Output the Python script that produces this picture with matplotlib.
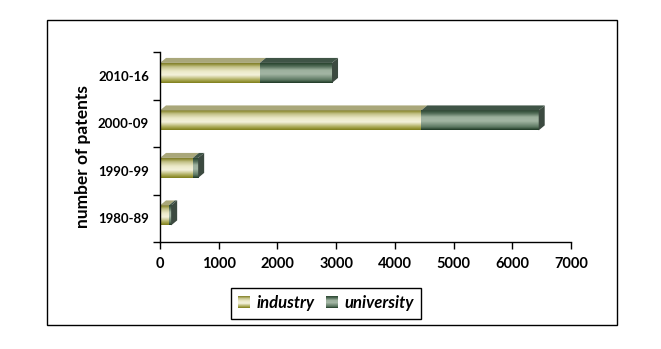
import numpy as np
import matplotlib
matplotlib.use('Agg')
import matplotlib.pyplot as plt
from matplotlib.colors import LinearSegmentedColormap
from matplotlib.patches import Polygon, Rectangle
from matplotlib.legend_handler import HandlerBase

categories = ['1980-89', '1990-99', '2000-09', '2010-16']
industry = [150, 560, 4450, 1700]
university = [40, 90, 2000, 1230]
xticks = [0, 1000, 2000, 3000, 4000, 5000, 6000, 7000]
series_names = ['industry', 'university']

plt.rcParams['font.family'] = ['Lato', 'DejaVu Sans']

ind_cmap = LinearSegmentedColormap.from_list('ind', [
    (0.0, '#7f7f1c'), (0.12, '#a3a24a'), (0.4, '#f4f2dc'), (0.6, '#ebe9c8'),
    (0.82, '#c2c188'), (0.92, '#9c9a48'), (1.0, '#807e2a')])
uni_cmap = LinearSegmentedColormap.from_list('uni', [
    (0.0, '#1e3824'), (0.15, '#5d7862'), (0.45, '#a3b6a4'), (0.65, '#9cb09d'),
    (0.85, '#4f6a55'), (1.0, '#2a4530')])
ind_top = '#a9a77a'
uni_top = '#3f5446'
side_col = '#3c4a40'

fig = plt.figure(figsize=(6.61, 3.49), dpi=100)
ax = fig.add_axes([160/661, 107/349, 411/661, 190/349])
xmin, xmax = 0, 7000
ymin, ymax = -0.5, len(categories) - 0.5

y = np.arange(len(categories)) + 0.06
h = 0.42
b1 = ax.barh(y, industry, height=h, color='none', edgecolor='none')
b2 = ax.barh(y, university, left=industry, height=h, color='none', edgecolor='none')

grad = np.linspace(0, 1, 64).reshape(-1, 1)
dxd = 6 * (xmax - xmin) / 411
dyd = 5 * (ymax - ymin) / 190

for bars, cmap, topc in [(b1, ind_cmap, ind_top), (b2, uni_cmap, uni_top)]:
    for p in bars:
        x0, y0 = p.get_x(), p.get_y()
        x1, y1 = x0 + p.get_width(), y0 + p.get_height()
        if x1 <= x0:
            continue
        im = ax.imshow(grad, extent=[x0, x1, y0, y1], aspect='auto', cmap=cmap,
                       origin='lower', zorder=2, interpolation='bilinear')
        im.set_clip_path(p)
        ax.add_patch(Polygon([(x0, y1), (x1, y1), (x1 + dxd, y1 + dyd), (x0 + dxd, y1 + dyd)],
                             closed=True, facecolor=topc, edgecolor='none', zorder=2))

for p in b2:
    x1 = p.get_x() + p.get_width()
    y0, y1 = p.get_y(), p.get_y() + p.get_height()
    ax.add_patch(Polygon([(x1, y0), (x1, y1), (x1 + dxd, y1 + dyd), (x1 + dxd, y0 + dyd)],
                         closed=True, facecolor=side_col, edgecolor='none', zorder=2))

ax.set_xlim(xmin, xmax)
ax.set_ylim(ymin, ymax)
ax.set_xticks(xticks)
ax.set_xticklabels([str(t) for t in xticks], fontweight='bold', fontsize=10.5)
ax.set_yticks(np.arange(len(categories)))
ax.set_yticklabels(categories, fontweight='bold', fontsize=9.5)
for lbl in ax.get_yticklabels():
    lbl.set_va('center_baseline')
ax.set_yticks(np.arange(len(categories) + 1) - 0.5, minor=True)
ax.tick_params(axis='y', which='major', length=0, pad=8)
ax.tick_params(axis='y', which='minor', length=5, width=1, direction='out')
ax.tick_params(axis='x', which='major', length=5, width=1, direction='out', pad=6)
for s in ['top', 'right']:
    ax.spines[s].set_visible(False)
for s in ['left', 'bottom']:
    ax.spines[s].set_linewidth(1)
ax.set_ylabel('number of patents', fontweight='bold', fontsize=12.5)
ax.yaxis.set_label_coords((91 - 160) / 411, (242 - 157) / 190)


class GradHandler(HandlerBase):
    def __init__(self, cmap):
        super().__init__()
        self.cmap = cmap

    def create_artists(self, legend, orig_handle, xdescent, ydescent, width, height, fontsize, trans):
        n = 12
        arts = []
        for i in range(n):
            r = Rectangle((-xdescent, -ydescent + i * height / n), width, height / n + 0.2,
                          facecolor=self.cmap((i + 0.5) / n), edgecolor='none', transform=trans)
            arts.append(r)
        return arts


h1 = Rectangle((0, 0), 1, 1)
h2 = Rectangle((0, 0), 1, 1)
leg = fig.legend([h1, h2], series_names, loc='center', bbox_to_anchor=(326/661, 1 - 303/349),
                 ncol=2, frameon=True, fancybox=False, edgecolor='black', framealpha=1,
                 prop={'weight': 'bold', 'style': 'italic', 'size': 12},
                 handlelength=0.7, handleheight=0.7, handletextpad=0.4, columnspacing=0.7,
                 borderpad=0.45,
                 handler_map={h1: GradHandler(ind_cmap), h2: GradHandler(uni_cmap)})
leg.get_frame().set_linewidth(1)

fig.add_artist(Rectangle((47/661, 1 - 325/349), 570/661, 305/349, transform=fig.transFigure,
                         fill=False, lw=1, edgecolor='black'))

fig.savefig('out.png', dpi=100)
